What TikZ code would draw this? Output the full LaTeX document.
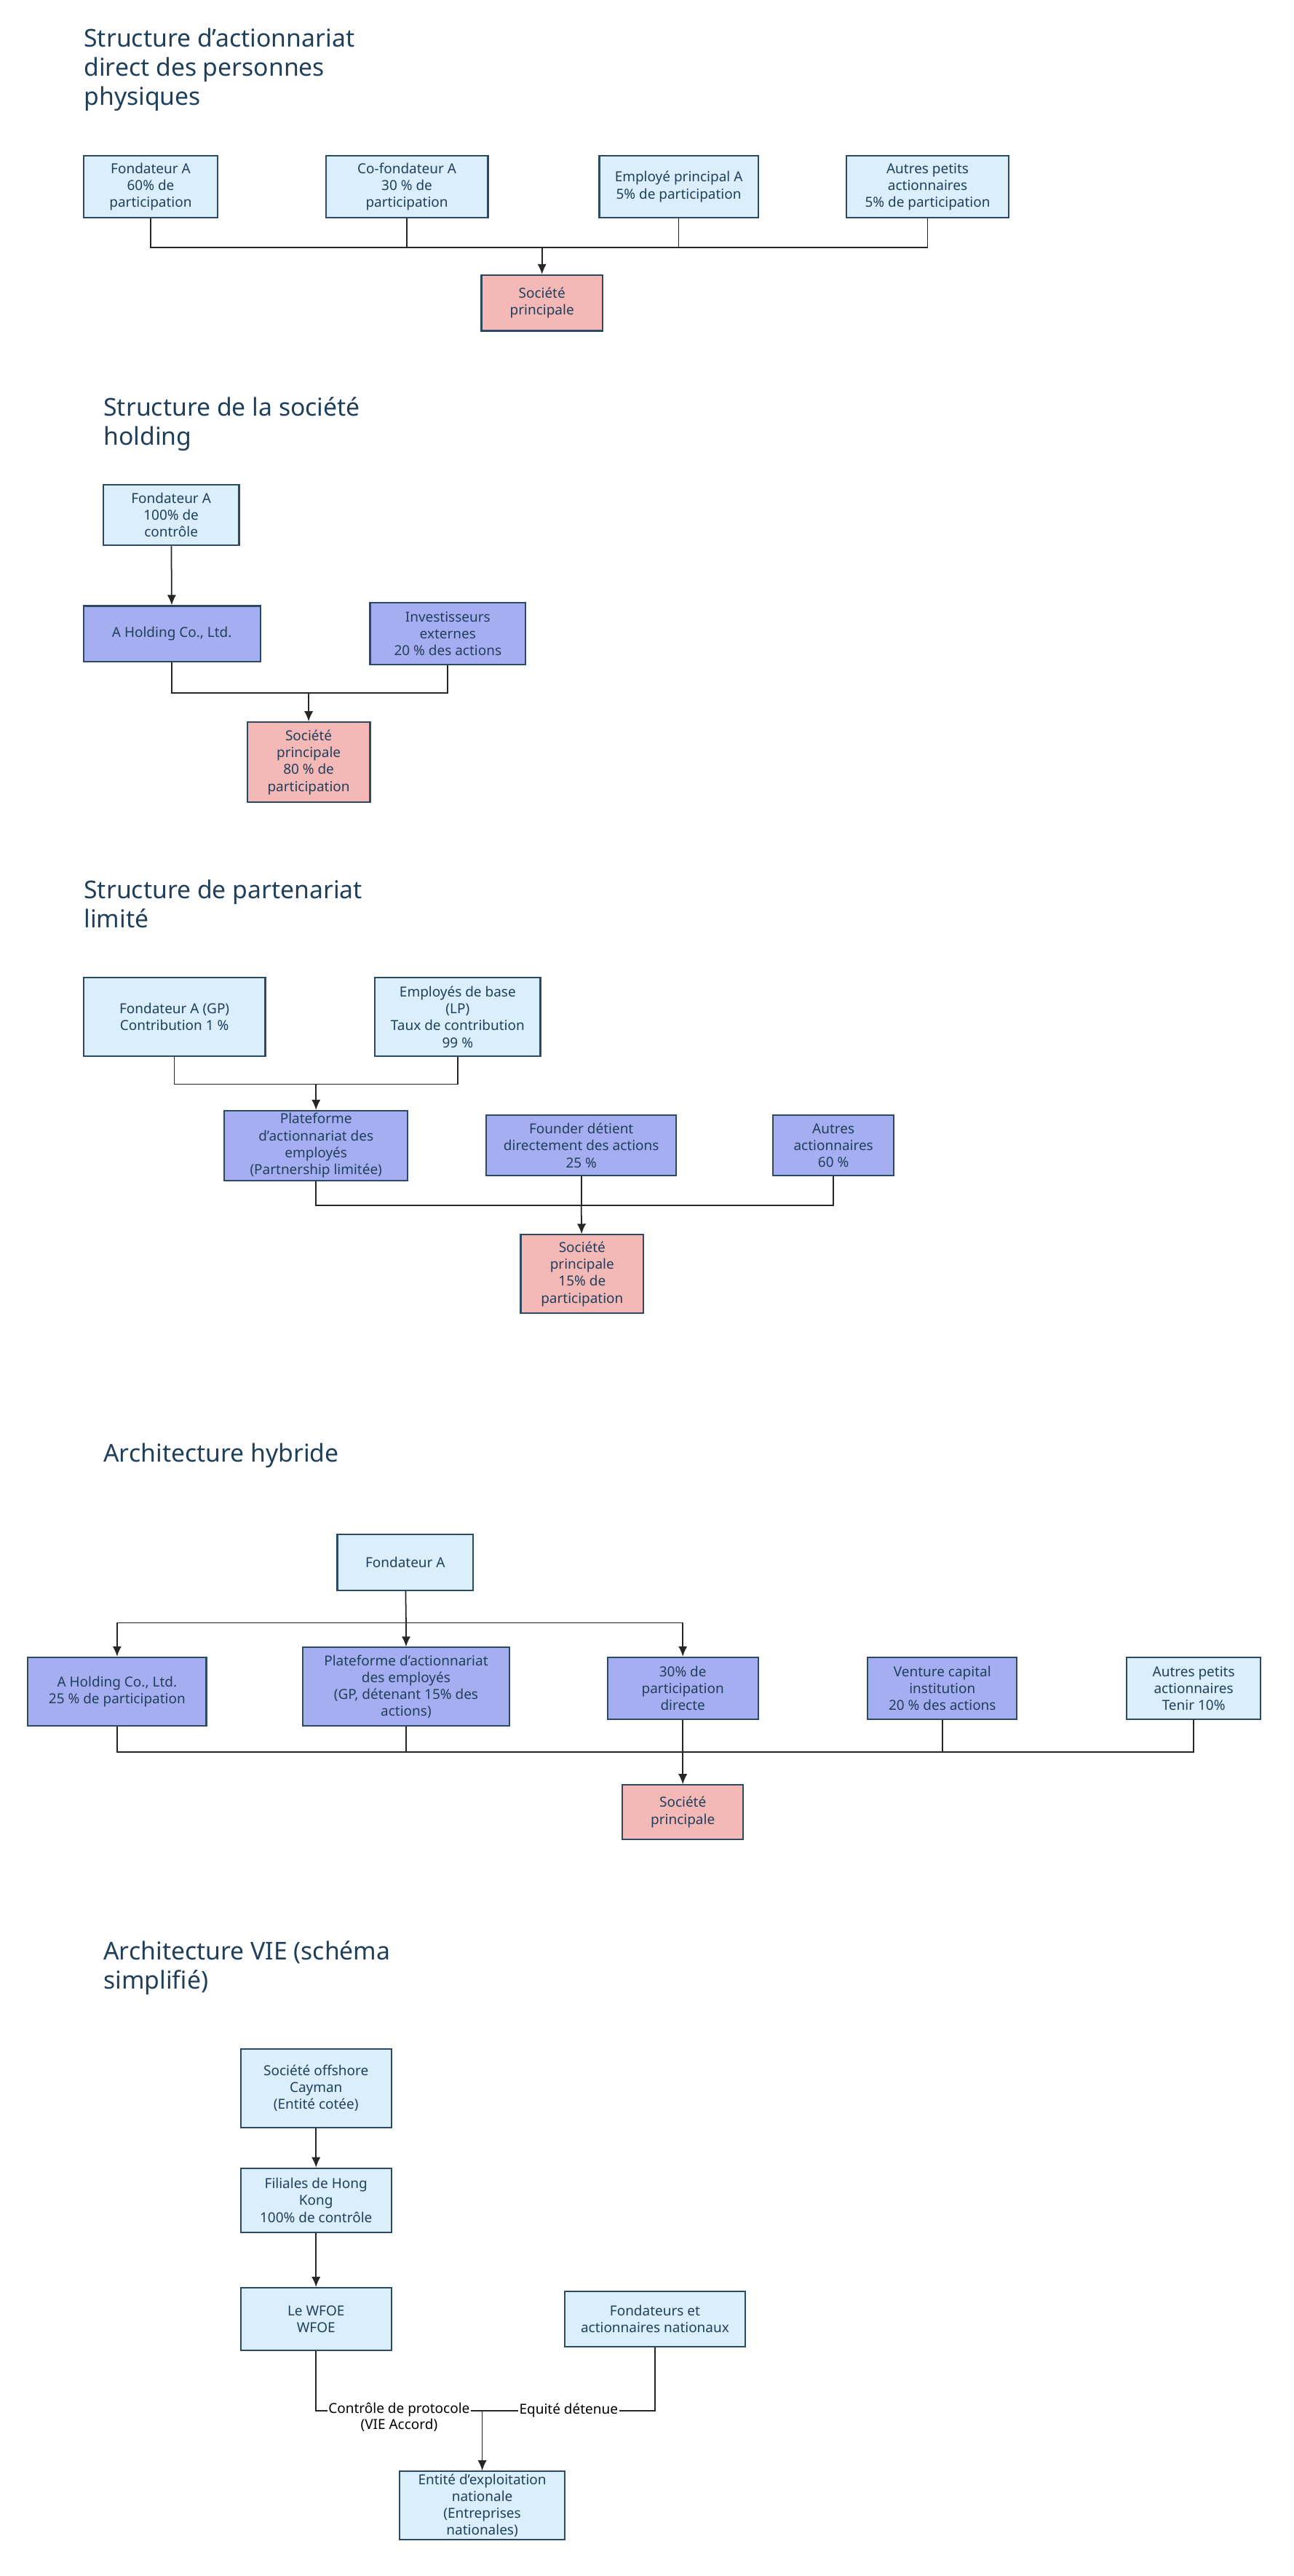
\documentclass[tikz,border=0pt]{standalone}
\usepackage{fontspec}
\setmainfont{Noto Sans}
\usepackage{xcolor}
\usetikzlibrary{arrows.meta, positioning, shapes}
\definecolor{bordc}{HTML}{2D4A63}
\definecolor{lblue}{HTML}{DAEFFB}
\definecolor{lpurp}{HTML}{A5AEF0}
\definecolor{lpink}{HTML}{F4B9B7}
\definecolor{titc}{HTML}{1F3F5B}
\tikzset{
  box/.style={draw=bordc, line width=0.6pt, align=center, inner sep=1pt, text=titc,
    font=\fontsize{5.4}{6.6}\selectfont},
  lb/.style={box, fill=lblue},
  pu/.style={box, fill=lpurp},
  pk/.style={box, fill=lpink},
  sz/.style 2 args={minimum width=#1*0.0225cm, minimum height=#2*0.0225cm},
  ttl/.style={anchor=north west, align=left, text=titc, inner sep=0pt,
    font=\fontsize{9.6}{11.4}\selectfont\bfseries},
  lnk/.style={draw=black!85, line width=0.5pt},
  arr/.style={lnk, -{Latex[length=4pt, width=3.5pt]}},
  elab/.style={fill=white, inner sep=0.5pt, align=center, font=\fontsize{5.4}{6.4}\selectfont}
}
\begin{document}
\begin{tikzpicture}[x=0.0225cm, y=-0.0225cm]
\useasboundingbox[fill=white] (0,0) rectangle (790,1573);

% Structure 1
\node[ttl] (t1) at (51,17) {Structure d'actionnariat\\direct des personnes\\physiques};
\node[lb, sz={82}{38}] (fa1) at (92,114) {Fondateur A\\60\% de\\participation};
\node[lb, sz={99}{38}] (cf1) at (248.5,114) {Co-fondateur A\\30 \% de\\participation};
\node[lb, sz={97}{38}] (em1) at (414.5,114) {Employé principal A\\5\% de participation};
\node[lb, sz={99}{38}] (ap1) at (566.5,114) {Autres petits\\actionnaires\\5\% de participation};
\node[pk, sz={74}{34}] (so1) at (331,185) {Société\\principale};
\coordinate (j1) at (331,151);
\draw[lnk] (fa1) |- (j1);
\draw[lnk] (cf1) |- (j1);
\draw[lnk] (em1) |- (j1);
\draw[lnk] (ap1) |- (j1);
\draw[arr] (j1) -- (so1);

% Structure 2
\node[ttl] (t2) at (63,242) {Structure de la société\\holding};
\node[lb, sz={83}{37}] (fa2) at (104.5,314.5) {Fondateur A\\100\% de\\contrôle};
\node[pu, sz={108}{34}] (ho2) at (105,387) {A Holding Co., Ltd.};
\node[pu, sz={95}{38}] (ie2) at (273.5,387) {Investisseurs\\externes\\20 \% des actions};
\node[pk, sz={75}{49}] (so2) at (188.5,465.5) {Société\\principale\\80 \% de\\participation};
\coordinate (j2) at (188.5,423);
\draw[arr] (fa2) -- (ho2);
\draw[lnk] (ho2) |- (j2);
\draw[lnk] (ie2) |- (j2);
\draw[arr] (j2) -- (so2);

% Structure 3
\node[ttl] (t3) at (51,537) {Structure de partenariat\\limité};
\node[lb, sz={111}{48}] (fa3) at (106.5,621) {Fondateur A (GP)\\Contribution 1 \%};
\node[lb, sz={101}{48}] (eb3) at (279.5,621) {Employés de base\\(LP)\\Taux de contribution\\99 \%};
\node[pu, sz={112}{37}] (pl3) at (193,699.5) {Plateforme\\d'actionnariat des\\employés\\(Partnership limitée)};
\node[pu, sz={116}{37}] (fd3) at (355,699.5) {Founder détient\\directement des actions\\25 \%};
\node[pu, sz={74}{37}] (au3) at (509,699.5) {Autres\\actionnaires\\60 \%};
\node[pk, sz={75}{48}] (so3) at (355.5,778) {Société\\principale\\15\% de\\participation};
\coordinate (j3a) at (193,662);
\coordinate (j3b) at (355,736);
\draw[lnk] (fa3) |- (j3a);
\draw[lnk] (eb3) |- (j3a);
\draw[arr] (j3a) -- (pl3);
\draw[lnk] (pl3) |- (j3b);
\draw[lnk] (fd3) -- (j3b);
\draw[lnk] (au3) |- (j3b);
\draw[arr] (j3b) -- (so3);

% Structure 4
\node[ttl] (t4) at (63,881) {Architecture hybride};
\node[lb, sz={83}{34}] (fa4) at (247.5,954) {Fondateur A};
\node[pu, sz={109}{42}] (ho4) at (71.5,1033) {A Holding Co., Ltd.\\25 \% de participation};
\node[pu, sz={126}{48}] (pl4) at (248,1030) {Plateforme d'actionnariat\\des employés\\(GP, détenant 15\% des\\actions)};
\node[pu, sz={92}{38}] (dp4) at (417,1031) {30\% de\\participation\\directe};
\node[pu, sz={91}{38}] (vc4) at (575.5,1031) {Venture capital\\institution\\20 \% des actions};
\node[lb, sz={82}{38}] (ap4) at (729,1031) {Autres petits\\actionnaires\\Tenir 10\%};
\node[pk, sz={74}{33}] (so4) at (417,1106.5) {Société\\principale};
\coordinate (j4a) at (248,991);
\coordinate (j4b) at (417,1070);
\draw[lnk] (fa4) -- (j4a);
\draw[arr] (j4a) -| (ho4);
\draw[arr] (j4a) -- (pl4);
\draw[arr] (j4a) -| (dp4);
\draw[lnk] (ho4) |- (j4b);
\draw[lnk] (pl4) |- (j4b);
\draw[lnk] (dp4) -- (j4b);
\draw[lnk] (vc4) |- (j4b);
\draw[lnk] (ap4) |- (j4b);
\draw[arr] (j4b) -- (so4);

% Structure 5
\node[ttl] (t5) at (63,1185) {Architecture VIE (schéma\\simplifié)};
\node[lb, sz={92}{48}] (ca5) at (193,1275) {Société offshore\\Cayman\\(Entité cotée)};
\node[lb, sz={92}{39}] (hk5) at (193,1343.5) {Filiales de Hong\\Kong\\100\% de contrôle};
\node[lb, sz={92}{38}] (wf5) at (193,1416) {Le WFOE\\WFOE};
\node[lb, sz={110}{34}] (fn5) at (400,1416) {Fondateurs et\\actionnaires nationaux};
\node[lb, sz={101}{38}] (en5) at (294.5,1530) {Entité d'exploitation\\nationale\\(Entreprises\\nationales)};
\coordinate (j5) at (294.5,1472);
\draw[arr] (ca5) -- (hk5);
\draw[arr] (hk5) -- (wf5);
\draw[lnk] (wf5) |- node[elab, pos=0.75, yshift=-2.5pt] (lb5a) {Contrôle de protocole\\(VIE Accord)} (j5);
\draw[lnk] (fn5) |- node[elab, pos=0.75] (lb5b) {Equité détenue} (j5);
\draw[arr] (j5) -- (en5);
\end{tikzpicture}
\end{document}
